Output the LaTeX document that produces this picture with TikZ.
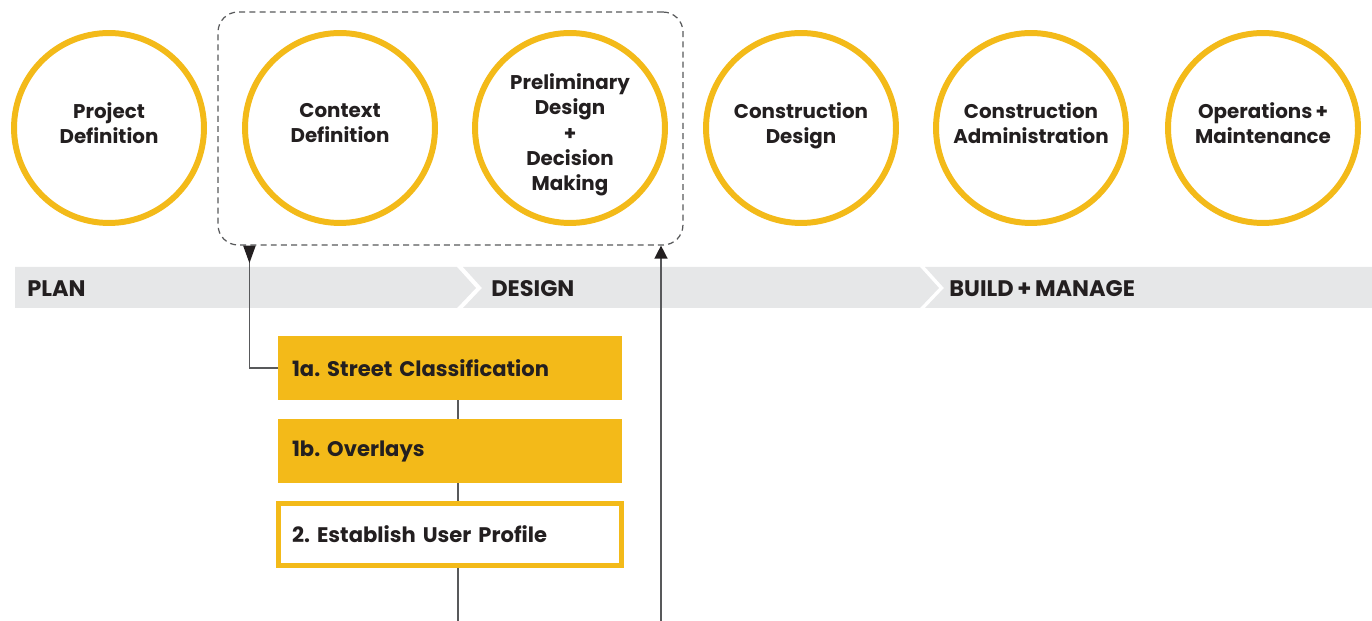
\documentclass[tikz,border=0pt]{standalone}
\usepackage{fontspec}
\setmainfont{Poppins}[WordSpace=0.75]
\usetikzlibrary{arrows.meta,calc,positioning}

\definecolor{phaseyellow}{HTML}{F3BA19}
\definecolor{bandgray}{HTML}{E6E7E8}
\definecolor{inkdark}{HTML}{231F20}
\definecolor{wiregray}{HTML}{58595B}

\frenchspacing

\begin{document}
\begin{tikzpicture}[
    x=0.02cm, y=-0.02cm,
    phase/.style={circle, draw=phaseyellow, line width=3.4pt, minimum size=3.8cm,
        inner sep=0pt, align=center, text=inkdark, text depth=0.2cm,
        font=\bfseries\fontsize{11.3}{14.5}\selectfont},
    task/.style={rectangle, minimum height=1.28cm, inner xsep=0.28cm, inner ysep=0pt,
        text width=6.32cm, align=left, text=inkdark,
        font=\bfseries\fontsize{12}{14.5}\selectfont},
    stagelbl/.style={anchor=west, inner sep=0pt, text=inkdark,
        font=\bfseries\fontsize{12.8}{14.5}\selectfont},
    wire/.style={draw=wiregray, line width=0.8pt}
]
    \useasboundingbox (0,0) rectangle (1372,621);

    % --- Phases (top row) ---
    \node[phase] (project) at (109,128) {Project\\Definition};
    \node[phase] (context) at (340,128) {Context\\Definition};
    \node[phase, text height=2.52cm, text depth=0pt] (prelim) at (570,128)
        {Preliminary\\Design\\+\\Decision\\Making};
    \node[phase] (cdesign) at (801,128) {Construction\\Design};
    \node[phase] (cadmin)  at (1031,128) {Construction\\Administration};
    \node[phase] (ops)     at (1263,128) {Operations +\\Maintenance};

    % dashed frame round context + preliminary design
    \node[draw=wiregray, dash pattern=on 3.4pt off 2.4pt, line width=0.7pt,
        rounded corners=0.4cm, minimum width=9.3cm, minimum height=4.66cm] (frame) at (450.5,128.5) {};

    % --- Stage band ---
    \fill[bandgray] (15,267) -- (457,267) -- (476,288) -- (457,308) -- (15,308) -- cycle;
    \fill[bandgray] (463,267) -- (920,267) -- (939,288) -- (920,308) -- (463,308) -- (482,288) -- cycle;
    \fill[bandgray] (925,267) -- (1372,267) -- (1372,308) -- (925,308) -- (944,288) -- cycle;
    \node[stagelbl] (plan)   at (27,289)  {PLAN};
    \node[stagelbl] (design) at (491,289) {DESIGN};
    \node[stagelbl] (build)  at (949,289) {BUILD + MANAGE};

    % --- Tasks ---
    \node[task, fill=phaseyellow] (street)   at (450,368)   {1a. Street Classification};
    \node[task, fill=phaseyellow] (overlays) at (450,451)   {1b. Overlays};
    \node[task, draw=phaseyellow, line width=0.1cm, fill=white,
        minimum height=1.24cm] (profile) at (450,534.5) {2. Establish User Profile};

    % spine between the tasks
    \coordinate (spine) at (458,621);
    \draw[wire] (spine |- street.south) -- (spine |- overlays.north);
    \draw[wire] (spine |- overlays.south) -- (spine |- profile.north);
    \draw[wire] (spine |- profile.south) -- (spine);

    % links back up to the frame
    \draw[wire, {Triangle[reversed, width=7pt, length=10pt, color=inkdark]}-]
        ($(frame.south west)+(32,0)$) |- (street.west);
    \coordinate (feed) at (661,621);
    \draw[wire, -{Triangle[width=7.4pt, length=7.4pt, color=inkdark]}] (feed) -- (feed |- frame.south);
\end{tikzpicture}
\end{document}
